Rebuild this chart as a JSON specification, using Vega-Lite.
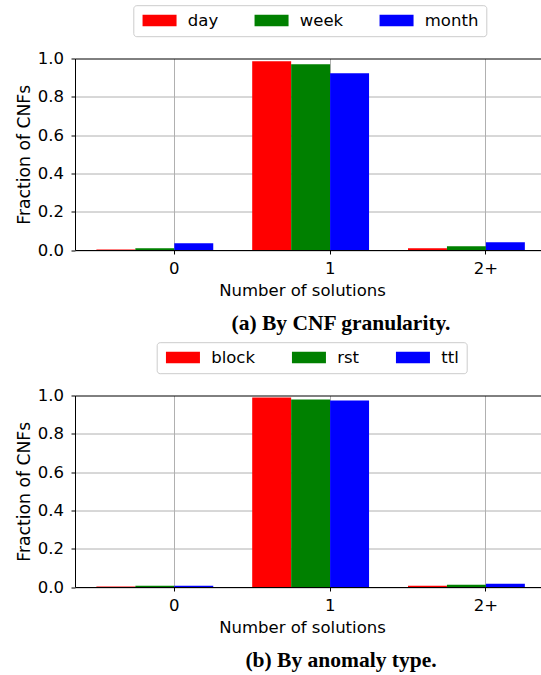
{
  "$schema": "https://vega.github.io/schema/vega-lite/v6.json",
  "padding": {"left": 15, "top": 4.5, "right": 0, "bottom": 0},
  "spacing": 6,
  "datasets": {
    "granularity": [
      {"solutions": "0", "series": "day", "fraction": 0.003},
      {"solutions": "0", "series": "week", "fraction": 0.009},
      {"solutions": "0", "series": "month", "fraction": 0.035},
      {"solutions": "1", "series": "day", "fraction": 0.986},
      {"solutions": "1", "series": "week", "fraction": 0.970},
      {"solutions": "1", "series": "month", "fraction": 0.923},
      {"solutions": "2+", "series": "day", "fraction": 0.009},
      {"solutions": "2+", "series": "week", "fraction": 0.019},
      {"solutions": "2+", "series": "month", "fraction": 0.040}
    ],
    "anomaly": [
      {"solutions": "0", "series": "block", "fraction": 0.002},
      {"solutions": "0", "series": "rst", "fraction": 0.007},
      {"solutions": "0", "series": "ttl", "fraction": 0.007},
      {"solutions": "1", "series": "block", "fraction": 0.989},
      {"solutions": "1", "series": "rst", "fraction": 0.979},
      {"solutions": "1", "series": "ttl", "fraction": 0.974},
      {"solutions": "2+", "series": "block", "fraction": 0.007},
      {"solutions": "2+", "series": "rst", "fraction": 0.012},
      {"solutions": "2+", "series": "ttl", "fraction": 0.017}
    ]
  },
  "resolve": {
    "scale": {"color": "independent", "xOffset": "independent"},
    "legend": {"color": "independent"}
  },
  "config": {
    "view": {"stroke": null},
    "font": "DejaVu Sans",
    "axis": {
      "labelFont": "DejaVu Sans", "labelFontSize": 16.5, "labelColor": "black",
      "titleFont": "DejaVu Sans", "titleFontSize": 16.5, "titleFontWeight": "normal", "titleColor": "black",
      "domainColor": "black", "domainWidth": 1,
      "tickColor": "black", "tickSize": 4, "tickWidth": 1,
      "grid": true, "gridColor": "#b0b0b0", "gridWidth": 1, "zindex": 1
    },
    "axisX": {"labelPadding": 6.5, "titlePadding": 5.4, "labelAngle": 0, "titleX": 227},
    "axisY": {"labelPadding": 7.5, "titlePadding": 4, "titleFontSize": 17.2},
    "legend": {
      "labelFont": "DejaVu Sans", "labelFontSize": 16.5, "labelColor": "black",
      "symbolType": "M-1,-0.958H4.667V0.958H-1Z", "symbolSize": 144, "symbolStrokeWidth": 0,
      "labelOffset": 31, "columnPadding": 34, "rowPadding": 0, "padding": 7,
      "strokeColor": "#cccccc", "fillColor": "white", "cornerRadius": 3
    },
    "title": {"font": "Liberation Serif", "fontWeight": "bold", "fontSize": 21.5, "color": "black"}
  },
  "vconcat": [
    {
      "width": 466, "height": 191.5,
      "data": {"name": "granularity"},
      "title": {"text": "(a) By CNF granularity.", "orient": "bottom", "anchor": "middle", "dx": 33, "offset": 14.5},
      "mark": {"type": "bar"},
      "encoding": {
        "x": {"field": "solutions", "type": "nominal", "sort": ["0", "1", "2+"],
              "scale": {"paddingInner": 0.25, "paddingOuter": 0.1205, "align": 0.57},
              "axis": {"title": "Number of solutions", "labelAngle": 0, "bandPosition": 0.6667, "labelOffset": 19.5}},
        "xOffset": {"field": "series", "type": "nominal", "sort": ["day", "week", "month"],
                    "scale": {"paddingInner": 0, "paddingOuter": 0}},
        "y": {"field": "fraction", "type": "quantitative", "scale": {"domain": [0, 1], "nice": false},
              "axis": {"title": "Fraction of CNFs", "values": [0, 0.2, 0.4, 0.6, 0.8, 1], "format": ".1f",
                       "gridColor": {"condition": {"test": "datum.value >= 1", "value": "black"}, "value": "#b0b0b0"}}},
        "color": {"field": "series", "type": "nominal",
                  "scale": {"domain": ["day", "week", "month"], "range": ["#ff0000", "#008000", "#0000ff"]},
                  "legend": {"orient": "none", "legendX": 58.3, "legendY": -53.3, "direction": "horizontal", "columns": 3, "title": null}}
      }
    },
    {
      "width": 466, "height": 191.5,
      "data": {"name": "anomaly"},
      "title": {"text": "(b) By anomaly type.", "orient": "bottom", "anchor": "middle", "dx": 33, "offset": 14.5},
      "mark": {"type": "bar"},
      "encoding": {
        "x": {"field": "solutions", "type": "nominal", "sort": ["0", "1", "2+"],
              "scale": {"paddingInner": 0.25, "paddingOuter": 0.1205, "align": 0.57},
              "axis": {"title": "Number of solutions", "labelAngle": 0, "bandPosition": 0.6667, "labelOffset": 19.5}},
        "xOffset": {"field": "series", "type": "nominal", "sort": ["block", "rst", "ttl"],
                    "scale": {"paddingInner": 0, "paddingOuter": 0}},
        "y": {"field": "fraction", "type": "quantitative", "scale": {"domain": [0, 1], "nice": false},
              "axis": {"title": "Fraction of CNFs", "values": [0, 0.2, 0.4, 0.6, 0.8, 1], "format": ".1f",
                       "gridColor": {"condition": {"test": "datum.value >= 1", "value": "black"}, "value": "#b0b0b0"}}},
        "color": {"field": "series", "type": "nominal",
                  "scale": {"domain": ["block", "rst", "ttl"], "range": ["#ff0000", "#008000", "#0000ff"]},
                  "legend": {"orient": "none", "legendX": 81.7, "legendY": -53.3, "direction": "horizontal", "columns": 3, "title": null}}
      }
    }
  ]
}
